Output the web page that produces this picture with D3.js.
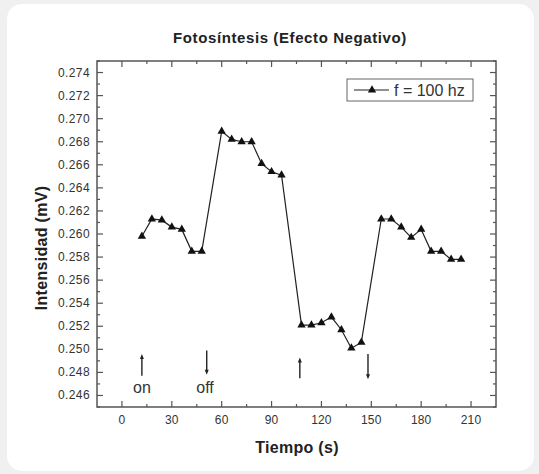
<!DOCTYPE html>
<html>
<head>
<meta charset="utf-8">
<script src="https://cdn.jsdelivr.net/npm/d3@7"></script>
<style>
  html, body { margin: 0; padding: 0; background: #f0f0f0; }
  svg { display: block; font-family: "Liberation Sans", Arial, sans-serif; }
</style>
</head>
<body>
<div id="chart"></div>
<script>
// data
const tiempo = [12, 18, 24, 30, 36, 42, 48, 60, 66, 72, 78, 84, 90, 96,
  108, 114, 120, 126, 132, 138, 144, 156, 162, 168, 174, 180, 186, 192, 198, 204];
const intensidad = [0.2598, 0.2613, 0.2612, 0.2606, 0.2604, 0.2585, 0.2585,
  0.2689, 0.2682, 0.2680, 0.2680, 0.2661, 0.2654, 0.2651,
  0.2521, 0.2521, 0.2523, 0.2528, 0.2517, 0.2501, 0.2506,
  0.2613, 0.2613, 0.2606, 0.2597, 0.2604, 0.2585, 0.2585, 0.2578, 0.2578];
const xTicks = [0, 30, 60, 90, 120, 150, 180, 210];
const yTicks = [0.246, 0.248, 0.250, 0.252, 0.254, 0.256, 0.258, 0.260,
  0.262, 0.264, 0.266, 0.268, 0.270, 0.272, 0.274];
// arrows: x, y start, y end
const arrowX = [12, 51, 107, 148];
const arrowFrom = [0.2477, 0.2499, 0.2475, 0.2496];
const arrowTo = [0.2496, 0.2478, 0.2493, 0.2474];
const notes = [{ x: 12, y: 0.2462, text: "on" }, { x: 50, y: 0.2462, text: "off" }];

const W = 539, H = 474;
const svg = d3.select("#chart").append("svg")
  .attr("width", W).attr("height", H);

svg.append("rect")
  .attr("x", 7).attr("y", 4).attr("width", 527).attr("height", 467)
  .attr("rx", 15).attr("fill", "#fff");

const pl = 97, pr = 496, pt = 61, pb = 407;

const x = d3.scaleLinear().domain([-15, 225]).range([pl, pr]);
const y = d3.scaleLinear().domain([0.245, 0.275]).range([pb, pt]);

const ink = "#555";

// frame
svg.append("rect")
  .attr("x", pl).attr("y", pt)
  .attr("width", pr - pl).attr("height", pb - pt)
  .attr("fill", "none").attr("stroke", ink).attr("stroke-width", 1.5);

// ticks pointing inwards on all four sides
const xMinor = d3.range(15, 210, 30);
const yMinor = d3.range(0.245, 0.2751, 0.002);

function xt(g, vals, len, y0, dir) {
  g.selectAll(null).data(vals).enter().append("line")
    .attr("x1", d => x(d)).attr("x2", d => x(d))
    .attr("y1", y0).attr("y2", y0 + dir * len)
    .attr("stroke", ink).attr("stroke-width", 1.2);
}
function yt(g, vals, len, x0, dir) {
  g.selectAll(null).data(vals).enter().append("line")
    .attr("y1", d => y(d)).attr("y2", d => y(d))
    .attr("x1", x0).attr("x2", x0 + dir * len)
    .attr("stroke", ink).attr("stroke-width", 1.2);
}
const tk = svg.append("g");
xt(tk, xTicks, 6, pb, -1); xt(tk, xMinor, 3, pb, -1);
xt(tk, xTicks, 6, pt, 1); xt(tk, xMinor, 3, pt, 1);
yt(tk, yTicks, 6, pl, 1); yt(tk, yMinor, 3, pl, 1);
yt(tk, yTicks, 6, pr, -1); yt(tk, yMinor, 3, pr, -1);

// tick labels
svg.append("g").selectAll("text").data(xTicks).enter().append("text")
  .attr("x", d => x(d)).attr("y", 424)
  .attr("text-anchor", "middle").attr("font-size", 12).attr("fill", "#333")
  .attr("letter-spacing", 0.2)
  .text(d => d);
svg.append("g").selectAll("text").data(yTicks).enter().append("text")
  .attr("x", 90).attr("y", d => y(d) + 4)
  .attr("text-anchor", "end").attr("font-size", 12).attr("fill", "#333")
  .attr("letter-spacing", 0.4)
  .text(d => d3.format(".3f")(d));

// titles
svg.append("text").attr("x", 290).attr("y", 43)
  .attr("text-anchor", "middle").attr("font-size", 15).attr("font-weight", "bold")
  .attr("letter-spacing", 0.6)
  .attr("fill", "#222").text("Fotosíntesis (Efecto Negativo)");
svg.append("text").attr("x", 297).attr("y", 453)
  .attr("text-anchor", "middle").attr("font-size", 16).attr("font-weight", "bold")
  .attr("letter-spacing", 0.3)
  .attr("fill", "#222").text("Tiempo (s)");
svg.append("text")
  .attr("transform", "translate(47,248) rotate(-90)")
  .attr("text-anchor", "middle").attr("font-size", 16).attr("font-weight", "bold")
  .attr("letter-spacing", 0.3)
  .attr("fill", "#222").text("Intensidad (mV)");

// series
const pts = tiempo.map((t, i) => [t, intensidad[i]]);
svg.append("path").datum(pts)
  .attr("fill", "none").attr("stroke", "#222").attr("stroke-width", 1.2)
  .attr("d", d3.line().x(d => x(d[0])).y(d => y(d[1])));

const tri = d3.symbol().type(d3.symbolTriangle).size(30);
svg.append("g").selectAll("path").data(pts).enter().append("path")
  .attr("transform", d => `translate(${x(d[0])},${y(d[1])})`)
  .attr("d", tri).attr("fill", "#111");

// arrows
const ar = svg.append("g");
arrowX.forEach((ax, i) => {
  const x0 = x(ax), y0 = y(arrowFrom[i]), y1 = y(arrowTo[i]);
  const dir = y1 < y0 ? -1 : 1;
  ar.append("line").attr("x1", x0).attr("x2", x0).attr("y1", y0).attr("y2", y1 - dir * 3)
    .attr("stroke", "#222").attr("stroke-width", 1.4);
  ar.append("path")
    .attr("d", `M${x0 - 2},${y1 - dir * 5}L${x0 + 2},${y1 - dir * 5}L${x0},${y1}Z`)
    .attr("fill", "#222");
});
svg.append("g").selectAll("text").data(notes).enter().append("text")
  .attr("x", d => x(d.x)).attr("y", d => y(d.y))
  .attr("text-anchor", "middle").attr("font-size", 16).attr("fill", "#333")
  .text(d => d.text);

// legend
const lg = svg.append("g");
lg.append("rect").attr("x", 347).attr("y", 79).attr("width", 126).attr("height", 22)
  .attr("fill", "#fff").attr("stroke", "#666").attr("stroke-width", 1);
lg.append("line").attr("x1", 354).attr("x2", 389).attr("y1", 90).attr("y2", 90)
  .attr("stroke", "#222").attr("stroke-width", 1.2);
lg.append("path").attr("transform", "translate(372,90)").attr("d", tri).attr("fill", "#111");
lg.append("text").attr("x", 394).attr("y", 96).attr("font-size", 16).attr("fill", "#333")
  .text("f = 100 hz");
</script>
</body>
</html>
